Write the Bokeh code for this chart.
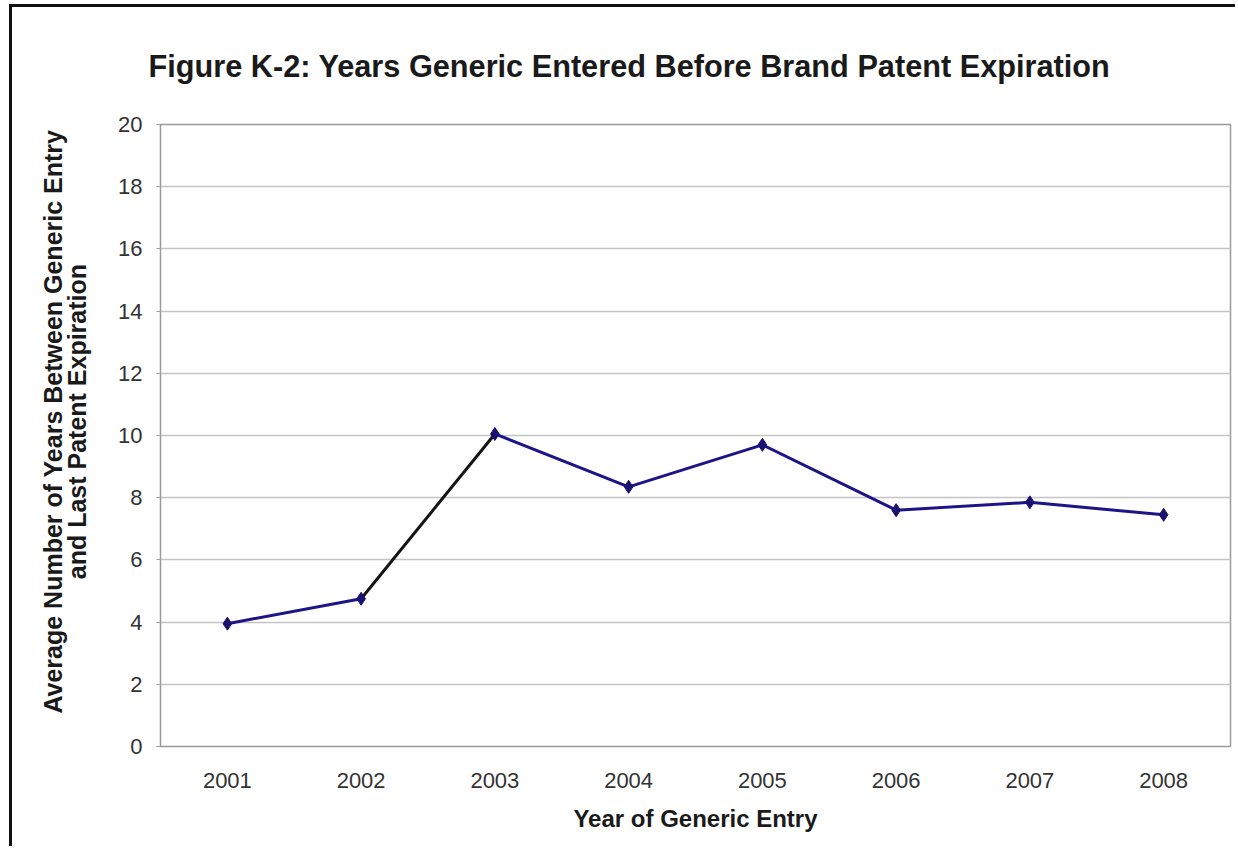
from bokeh.plotting import figure
from bokeh.models import FixedTicker, Range1d
from bokeh.embed import file_html
from bokeh.resources import INLINE

# Data: average years between generic entry and last patent expiration
years = ["2001", "2002", "2003", "2004", "2005", "2006", "2007", "2008"]
avg_years = [3.95, 4.75, 10.05, 8.35, 9.7, 7.6, 7.85, 7.45]
y_ticks = [0, 2, 4, 6, 8, 10, 12, 14, 16, 18, 20]

title_text = "Figure K-2: Years Generic Entered Before Brand Patent Expiration"
x_title = "Year of Generic Entry"
# leading no-break spaces nudge the rotated label slightly upward
PAD = "\u00a0" * 4
y_title = PAD + "Average Number of Years Between Generic Entry\n" + PAD + "and Last Patent Expiration"

LINE_BLUE = "#1d1488"
LINE_DARK = "#141414"
# colour for each connecting segment (the 2002-2003 leg is drawn in black)
segment_colors = [LINE_BLUE, LINE_DARK, LINE_BLUE, LINE_BLUE, LINE_BLUE, LINE_BLUE, LINE_BLUE]

FONT = "Liberation Sans"

p = figure(
    width=1226, height=842,
    x_range=years, y_range=Range1d(0, 20),
    output_backend="svg", toolbar_location=None,
    min_border_left=148, min_border_right=8,
    min_border_top=117, min_border_bottom=103,
    background_fill_color="white", border_fill_color="white",
    title=title_text,
)

# black rule along the top and left edges of the page
p.styles = {
    "border-top": "3px solid #111111",
    "border-left": "3px solid #111111",
    "margin-left": "9px",
    "margin-top": "4px",
}

# chart title
p.title.align = "left"
p.title.offset = -12
p.title.vertical_align = "top"
p.title.standoff = 78
p.title.text_font = FONT
p.title.text_font_size = "30.7px"
p.title.text_font_style = "bold"
p.title.text_color = "#1a1a1a"

# plot frame
p.outline_line_color = "#9a9a9a"
p.outline_line_width = 1.5

# grid
p.xgrid.grid_line_color = None
p.ygrid.grid_line_color = "#c4c4c4"
p.ygrid.grid_line_width = 1.5

# y axis
p.yaxis.ticker = FixedTicker(ticks=y_ticks)
p.yaxis.axis_line_color = "#9a9a9a"
p.yaxis.major_tick_line_color = "#9a9a9a"
p.yaxis.major_tick_out = 4
p.yaxis.major_tick_in = 0
p.yaxis.minor_tick_line_color = None
p.yaxis.major_label_text_font = FONT
p.yaxis.major_label_text_font_size = "22px"
p.yaxis.major_label_text_color = "#333333"
p.yaxis.major_label_standoff = 14
p.yaxis.axis_label = y_title
p.yaxis.axis_label_text_font = FONT
p.yaxis.axis_label_text_font_size = "25px"
p.yaxis.axis_label_text_line_height = 0.85
p.yaxis.axis_label_text_font_style = "bold"
p.yaxis.axis_label_text_color = "#1a1a1a"
p.yaxis.axis_label_standoff = 24

# x axis
p.xaxis.axis_line_color = "#9a9a9a"
p.xaxis.major_tick_line_color = None
p.xaxis.minor_tick_line_color = None
p.xaxis.major_label_text_font = FONT
p.xaxis.major_label_text_font_size = "22px"
p.xaxis.major_label_text_color = "#333333"
p.xaxis.major_label_standoff = 20
p.xaxis.axis_label = x_title
p.xaxis.axis_label_text_font = FONT
p.xaxis.axis_label_text_font_size = "24px"
p.xaxis.axis_label_text_font_style = "bold"
p.xaxis.axis_label_text_color = "#1a1a1a"
p.xaxis.axis_label_standoff = 14

# connecting line, segment by segment
p.segment(
    x0=years[:-1], y0=avg_years[:-1], x1=years[1:], y1=avg_years[1:],
    line_color=segment_colors, line_width=3,
)
# diamond markers
p.scatter(years, avg_years, marker="diamond", size=13,
          fill_color="#1a1070", line_color="#1a1070")

open("out.html", "w").write(file_html(p, INLINE))
